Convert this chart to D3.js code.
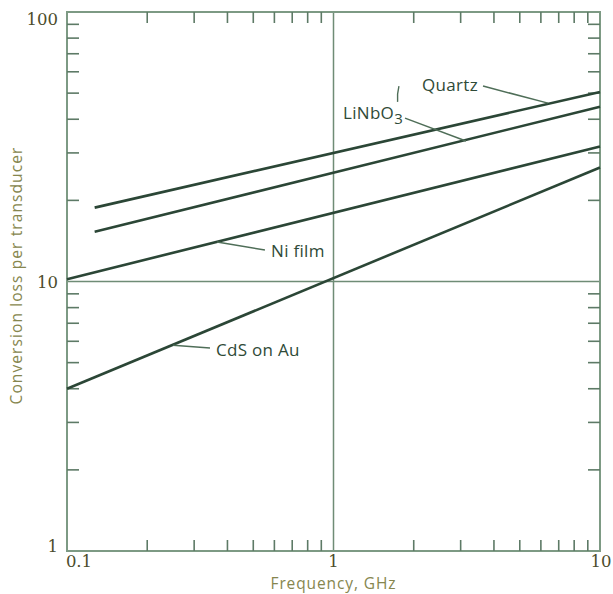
<!DOCTYPE html>
<html>
<head>
<meta charset="utf-8">
<script src="https://cdn.jsdelivr.net/npm/d3@7"></script>
<style>
  html, body { margin: 0; padding: 0; background: #ffffff; }
  svg { display: block; }
</style>
</head>
<body>
<svg id="chart" width="613" height="594"></svg>
<script>
// ---- data ----
const seriesNames = ["Quartz", "LiNbO3", "Ni film", "CdS on Au"];
const freqStart = [0.127, 0.127, 0.1, 0.1];
const freqEnd = [10, 10, 10, 10];
const lossStart = [18.8, 15.3, 10.2, 4.0];
const lossEnd = [50.5, 44.5, 31.7, 26.5];

const xTickValues = [0.1, 1, 10];
const xTickLabels = ["0.1", "1", "10"];
const yTickValues = [1, 10, 100];
const yTickLabels = ["1", "10", "100"];

// annotation anchors in data units [freq, loss]
const labelPos = [[2.15, 50.9], [1.086, 40.1], [0.583, 12.33], [0.3625, 5.29]];
const leaderFrom = [[3.64, 53.1], [1.855, 40.4], [0.553, 13.09], [0.344, 5.67]];
const leaderTo = [[6.38, 45.9], [3.14, 33.2], [0.3656, 14.02], [0.25, 5.8]];
const bracket = [[1.76, 53.1], [1.74, 46.4]];

const xTitle = "Frequency, GHz";
const yTitle = "Conversion loss per transducer";

// ---- layout ----
const mLeft = 67, mRight = 600, mTop = 12, mBottom = 551;
const svg = d3.select("#chart");
const x = d3.scaleLog().domain([0.1, 10]).range([mLeft, mRight]);
const y = d3.scaleLog().domain([1, 100]).range([mBottom, mTop]);

const axisColor = "#7d9a84";
const lineColor = "#2b4636";
const labelColor = "#4c4c2c";
const titleColor = "#86864e";

// minor ticks
const minorX = [];
[0.1, 1].forEach(d => { for (let k = 2; k <= 9; k++) minorX.push(d * k); });
const minorY = [];
[1, 10].forEach(d => { for (let k = 2; k <= 9; k++) minorY.push(d * k); });

const g = svg.append("g");

// grid lines at 1 GHz and 10
g.append("line").attr("x1", x(1)).attr("x2", x(1)).attr("y1", y(1)).attr("y2", y(100))
  .attr("stroke", "#6f8c76").attr("stroke-width", 1.5);
g.append("line").attr("x1", x(0.1)).attr("x2", x(10)).attr("y1", y(10)).attr("y2", y(10))
  .attr("stroke", "#6f8c76").attr("stroke-width", 1.5);

// frame
g.append("rect").attr("x", mLeft).attr("y", mTop).attr("width", mRight - mLeft).attr("height", mBottom - mTop)
  .attr("fill", "none").attr("stroke", axisColor).attr("stroke-width", 2);

// x minor ticks (bottom and top, inward)
const tlen = 11;
g.selectAll(".xtb").data(minorX).join("line")
  .attr("x1", d => x(d)).attr("x2", d => x(d)).attr("y1", mBottom).attr("y2", mBottom - tlen)
  .attr("stroke", "#5d7a66").attr("stroke-width", 1.6);
g.selectAll(".xtt").data(minorX).join("line")
  .attr("x1", d => x(d)).attr("x2", d => x(d)).attr("y1", mTop).attr("y2", mTop + tlen)
  .attr("stroke", "#5d7a66").attr("stroke-width", 1.6);
// y minor ticks (left and right, inward)
g.selectAll(".ytl").data(minorY).join("line")
  .attr("x1", mLeft).attr("x2", mLeft + 12).attr("y1", d => y(d)).attr("y2", d => y(d))
  .attr("stroke", "#5d7a66").attr("stroke-width", 1.6);
g.selectAll(".ytr").data(minorY).join("line")
  .attr("x1", mRight).attr("x2", mRight - 12).attr("y1", d => y(d)).attr("y2", d => y(d))
  .attr("stroke", "#5d7a66").attr("stroke-width", 1.6);

// tick labels
const tickFont = "'DejaVu Serif', 'Liberation Serif', serif";
g.selectAll(".xl").data(xTickValues).join("text")
  .attr("x", (d, i) => x(d) + (i === 0 ? 12 : (i === 2 ? 1 : 0)))
  .attr("y", mBottom + 16)
  .attr("text-anchor", "middle")
  .attr("font-family", tickFont).attr("font-size", 16.5).attr("fill", labelColor)
  .text((d, i) => xTickLabels[i]);
g.selectAll(".yl").data(yTickValues).join("text")
  .attr("x", mLeft - 9)
  .attr("y", (d, i) => y(d) + (i === 0 ? 1 : (i === 2 ? 13 : 6)))
  .attr("text-anchor", "end")
  .attr("font-family", tickFont).attr("font-size", 16.5).attr("fill", labelColor)
  .text((d, i) => yTickLabels[i]);

// axis titles
g.append("text").attr("x", x(1)).attr("y", 589).attr("text-anchor", "middle")
  .attr("font-family", "'Open Sans', 'DejaVu Sans', sans-serif").attr("font-size", 15.5)
  .attr("letter-spacing", 0.9)
  .attr("fill", titleColor).text(xTitle);
g.append("text").attr("transform", `translate(22, ${y(10) - 6}) rotate(-90)`)
  .attr("text-anchor", "middle")
  .attr("font-family", "'Open Sans', 'DejaVu Sans', sans-serif").attr("font-size", 15.5)
  .attr("letter-spacing", 1.1)
  .attr("fill", titleColor).text(yTitle);

// data lines
const series = seriesNames.map((n, i) => ({ name: n, pts: [[freqStart[i], lossStart[i]], [freqEnd[i], lossEnd[i]]] }));
const line = d3.line().x(d => x(d[0])).y(d => y(d[1]));
g.selectAll(".series").data(series).join("path")
  .attr("d", d => line(d.pts))
  .attr("fill", "none").attr("stroke", lineColor).attr("stroke-width", 2.6);

// leader lines
g.selectAll(".leader").data(seriesNames).join("line")
  .attr("x1", (d, i) => x(leaderFrom[i][0])).attr("y1", (d, i) => y(leaderFrom[i][1]))
  .attr("x2", (d, i) => x(leaderTo[i][0])).attr("y2", (d, i) => y(leaderTo[i][1]))
  .attr("stroke", "#4f6e58").attr("stroke-width", 1.5);
// bracket mark near LiNbO3
g.append("path")
  .attr("d", `M${x(bracket[0][0])},${y(bracket[0][1])} Q${x(bracket[0][0]) - 2},${(y(bracket[0][1]) + y(bracket[1][1])) / 2} ${x(bracket[1][0])},${y(bracket[1][1])}`)
  .attr("fill", "none").attr("stroke", "#4f6e58").attr("stroke-width", 1.4);

// labels
const labelFont = "'Open Sans', 'DejaVu Sans', sans-serif";
seriesNames.forEach((n, i) => {
  const t = g.append("text")
    .attr("x", x(labelPos[i][0])).attr("y", y(labelPos[i][1]))
    .attr("font-family", labelFont).attr("font-size", 17).attr("fill", "#2f4a37")
    .attr("letter-spacing", 0.3);
  if (n === "LiNbO3") {
    t.append("tspan").text("LiNbO");
    t.append("tspan").attr("dy", 5).attr("font-size", 15).text("3");
  } else {
    t.text(n);
  }
});
</script>
</body>
</html>
